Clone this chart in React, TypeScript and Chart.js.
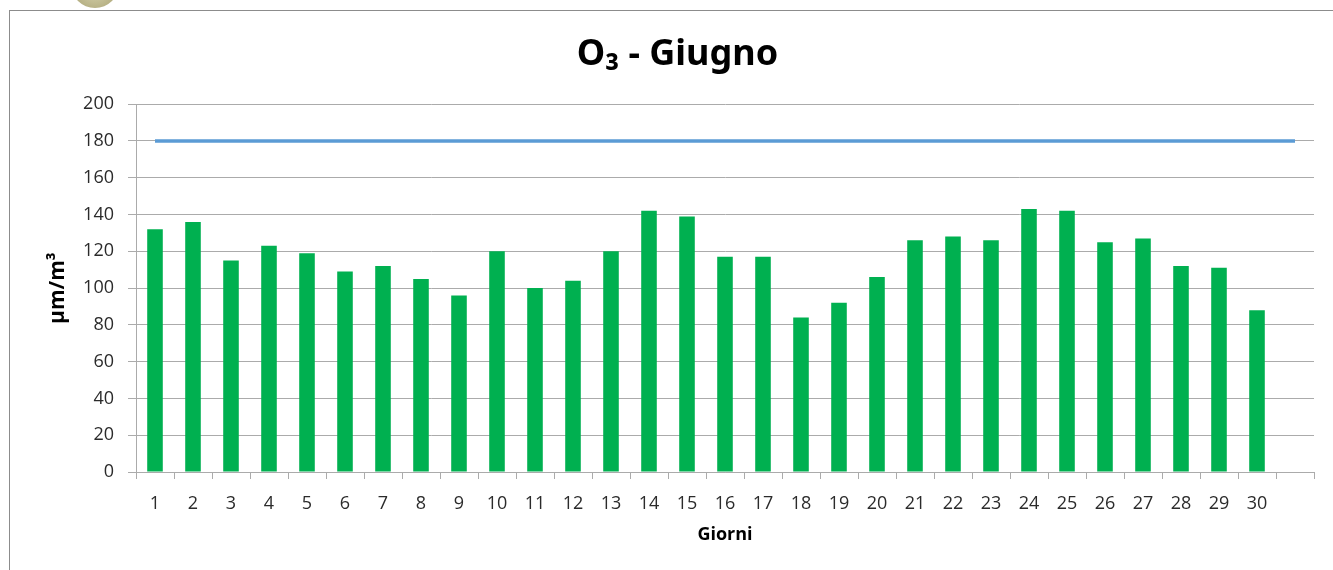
import React, { useEffect, useRef } from "react";
import { Chart, registerables } from "chart.js";

Chart.register(...registerables);

const days: string[] = [
  "1", "2", "3", "4", "5", "6", "7", "8", "9", "10",
  "11", "12", "13", "14", "15", "16", "17", "18", "19", "20",
  "21", "22", "23", "24", "25", "26", "27", "28", "29", "30", "",
];

const o3Values: number[] = [
  132, 136, 115, 123, 119, 109, 112, 105, 96, 120,
  100, 104, 120, 142, 139, 117, 117, 84, 92, 106,
  126, 128, 126, 143, 142, 125, 127, 112, 111, 88,
];

const limitValues: number[] = [
  180, 180, 180, 180, 180, 180, 180, 180, 180, 180,
  180, 180, 180, 180, 180, 180, 180, 180, 180, 180,
  180, 180, 180, 180, 180, 180, 180, 180, 180, 180, 180,
];

const yTicks: number[] = [0, 20, 40, 60, 80, 100, 120, 140, 160, 180, 200];

const titleText = "O₃ - Giugno";
const yTitle = "µm/m³";
const xTitle = "Giorni";

const FONT = "'Open Sans', 'Noto Sans', sans-serif";
const GRID = "#ababab";
const TEXT = "#2b2b2b";

export default function App() {
  const ref = useRef<HTMLCanvasElement | null>(null);

  useEffect(() => {
    if (!ref.current) return;
    const chart = new Chart(ref.current, {
      type: "bar",
      data: {
        labels: days,
        datasets: [
          {
            type: "line",
            label: "Limite",
            data: limitValues,
            borderColor: "#5B9BD5",
            backgroundColor: "#5B9BD5",
            borderWidth: 3.5,
            pointRadius: 0,
            order: 0,
          } as any,
          {
            type: "bar",
            label: "O3",
            data: o3Values,
            backgroundColor: "#00B050",
            borderWidth: 0,
            categoryPercentage: 1,
            barPercentage: 0.41,
            order: 1,
          } as any,
        ],
      },
      options: {
        responsive: false,
        animation: false,
        devicePixelRatio: 1,
        layout: { padding: { top: 0, left: 41, right: 19, bottom: 20 } },
        plugins: {
          legend: { display: false },
          tooltip: { enabled: false },
          title: {
            display: true,
            text: titleText,
            color: "#000000",
            font: { family: "'Noto Sans', 'Open Sans', sans-serif", size: 36, weight: "bold", lineHeight: 1.2 },
            padding: { top: 33, bottom: 28 },
          },
        },
        scales: {
          x: {
            offset: true,
            grid: {
              display: true,
              offset: true,
              drawOnChartArea: false,
              drawTicks: true,
              tickLength: 7,
              color: GRID,
            },
            border: { display: true, color: GRID },
            ticks: {
              color: TEXT,
              font: { family: FONT, size: 18 },
              padding: 14,
              maxRotation: 0,
              autoSkip: false,
            },
            title: {
              display: true,
              text: xTitle,
              color: "#000000",
              font: { family: FONT, size: 18, weight: "bold", lineHeight: 1.2 },
              padding: { top: 4, bottom: 4 },
            },
            afterFit: (scale: any) => {
              scale.height = 78;
            },
          },
          y: {
            min: 0,
            max: 200,
            afterBuildTicks: (scale: any) => {
              scale.ticks = yTicks.map((v) => ({ value: v }));
            },
            grid: {
              color: GRID,
              drawTicks: true,
              tickLength: 8,
            },
            border: { display: true, color: GRID },
            ticks: {
              color: TEXT,
              font: { family: FONT, size: 18 },
              padding: 14,
            },
            title: {
              display: true,
              text: yTitle,
              color: "#000000",
              font: { family: FONT, size: 21, weight: "bold", lineHeight: 1.2 },
              padding: { top: 4, bottom: 4 },
            },
            afterFit: (scale: any) => {
              scale.width = 95;
            },
          },
        },
      },
    });
    return () => chart.destroy();
  }, []);

  return (
    <div
      style={{
        position: "fixed",
        left: 0,
        top: 0,
        width: 1333,
        height: 570,
        background: "#ffffff",
        overflow: "hidden",
      }}
    >
      <div
        style={{
          position: "absolute",
          left: 71,
          top: -40,
          width: 48,
          height: 48,
          borderRadius: "50%",
          background: "radial-gradient(circle at 50% 60%, #d8d4b0 0%, #b3ad80 60%, #9c966a 100%)",
        }}
      />
      <div
        style={{
          position: "absolute",
          left: 9,
          top: 10,
          width: 1400,
          height: 700,
          border: "1px solid #8c8c8c",
          boxSizing: "border-box",
        }}
      />
      <canvas
        ref={ref}
        width={1333}
        height={570}
        style={{ position: "absolute", left: 0, top: 0, width: 1333, height: 570 }}
      />
    </div>
  );
}
